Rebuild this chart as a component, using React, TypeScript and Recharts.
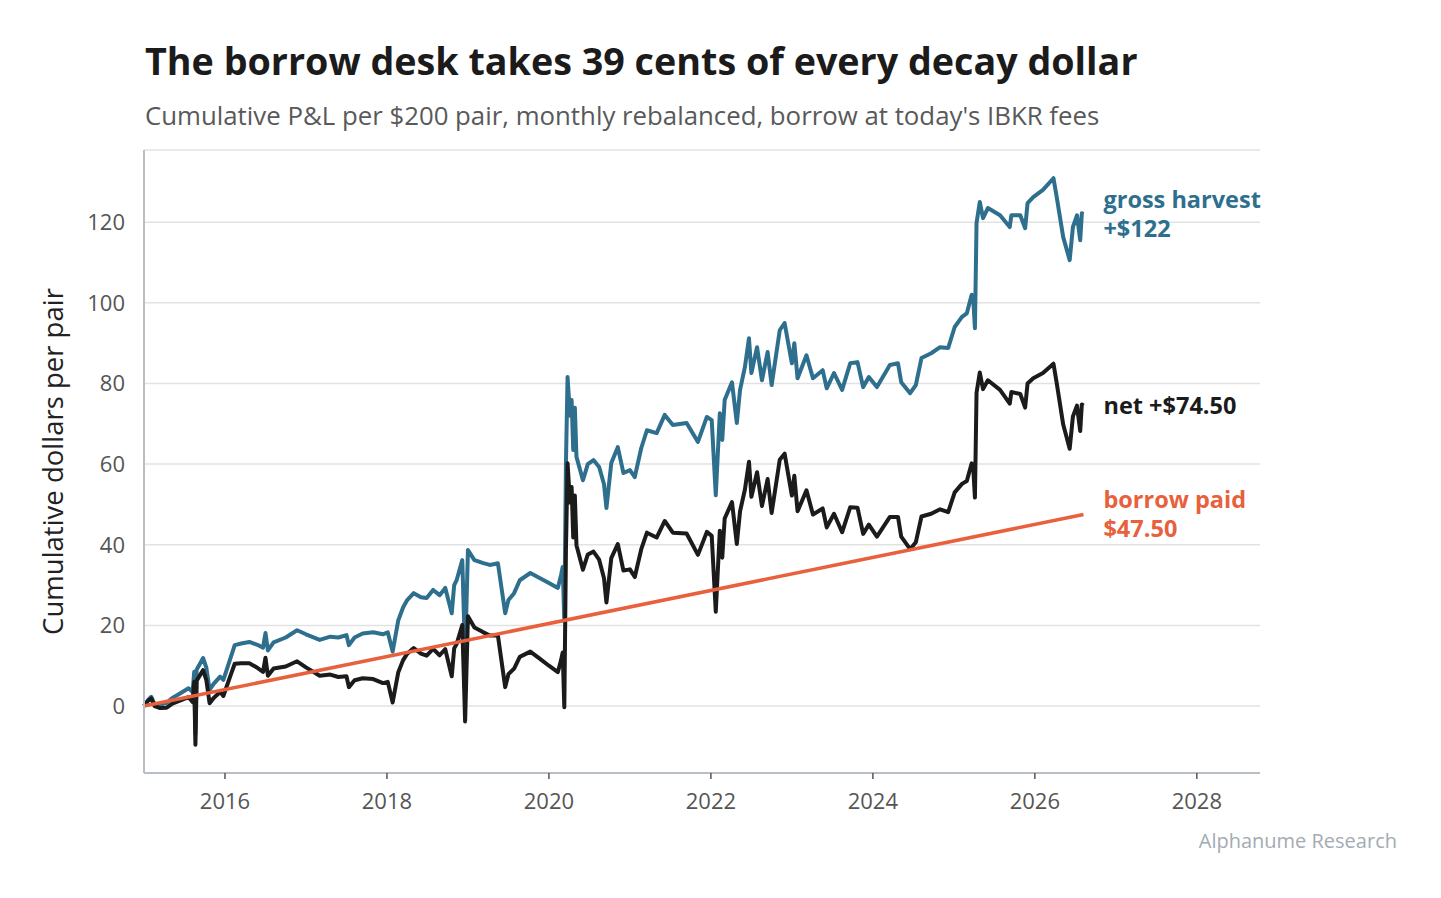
import { CartesianGrid, Line, LineChart, XAxis, YAxis } from 'recharts'

const years = [
  2015.0, 2015.05, 2015.09, 2015.13, 2015.2, 2015.28, 2015.35, 2015.45, 2015.55, 2015.6,
  2015.62, 2015.635, 2015.65, 2015.73, 2015.77, 2015.81, 2015.86, 2015.94, 2015.98, 2016.06,
  2016.12, 2016.2, 2016.3, 2016.4, 2016.47, 2016.5, 2016.53, 2016.6, 2016.75, 2016.89,
  2017.0, 2017.17, 2017.3, 2017.4, 2017.5, 2017.53, 2017.6, 2017.7, 2017.83, 2017.95,
  2018.01, 2018.07, 2018.14, 2018.2, 2018.25, 2018.33, 2018.42, 2018.49, 2018.57, 2018.65,
  2018.72, 2018.8, 2018.83, 2018.86, 2018.93, 2018.965, 2019.0, 2019.08, 2019.18, 2019.27,
  2019.37, 2019.46, 2019.5, 2019.57, 2019.64, 2019.77, 2019.89, 2020.0, 2020.11, 2020.15,
  2020.17, 2020.19, 2020.21, 2020.23, 2020.26, 2020.28, 2020.3, 2020.32, 2020.34, 2020.42,
  2020.48, 2020.55, 2020.62, 2020.68, 2020.71, 2020.77, 2020.85, 2020.92, 2021.0, 2021.06,
  2021.14, 2021.21, 2021.33, 2021.43, 2021.53, 2021.7, 2021.84, 2021.95, 2022.01, 2022.06,
  2022.11, 2022.14, 2022.17, 2022.26, 2022.32, 2022.36, 2022.42, 2022.47, 2022.5, 2022.57,
  2022.63, 2022.7, 2022.75, 2022.85, 2022.91, 2023.0, 2023.03, 2023.07, 2023.18, 2023.26,
  2023.38, 2023.43, 2023.52, 2023.62, 2023.72, 2023.81, 2023.88, 2023.95, 2024.05, 2024.21,
  2024.31, 2024.35, 2024.46, 2024.53, 2024.6, 2024.72, 2024.83, 2024.93, 2025.01, 2025.1,
  2025.16, 2025.22, 2025.24, 2025.26, 2025.28, 2025.32, 2025.36, 2025.42, 2025.57, 2025.69,
  2025.71, 2025.82, 2025.88, 2025.91, 2025.98, 2026.1, 2026.23, 2026.27, 2026.35, 2026.43,
  2026.47, 2026.52, 2026.56, 2026.58, 2026.6
]

const gross = [
  0, 1.5, 2.3, 0.5, 0.3, 0.8, 2.0, 3.2, 4.4, 3.5,
  8.5, -7.0, 9.0, 11.9, 9.5, 4.0, 5.5, 7.3, 6.5, 11.4,
  15.1, 15.5, 15.9, 15.2, 14.5, 18.1, 13.8, 15.8, 17.0, 18.8,
  17.8, 16.4, 17.2, 17.0, 17.6, 15.1, 17.0, 18.0, 18.3, 17.8,
  18.3, 13.5, 21.3, 24.5, 26.3, 28.0, 27.0, 26.8, 28.8, 27.5,
  29.3, 23.0, 30.0, 31.2, 36.2, 12.4, 38.7, 36.2, 35.5, 35.0,
  35.4, 23.0, 26.3, 28.0, 31.2, 33.0, 31.7, 30.5, 29.3, 32.5,
  34.5, 21.0, 60.0, 81.6, 72.0, 75.9, 63.5, 74.0, 61.8, 56.0,
  60.0, 61.0, 59.3, 55.0, 49.1, 60.3, 64.2, 57.8, 58.5, 56.8,
  64.0, 68.4, 67.7, 72.2, 69.7, 70.2, 65.5, 71.7, 70.9, 52.3,
  72.6, 66.0, 75.9, 80.3, 70.2, 78.4, 84.1, 91.2, 82.6, 89.0,
  80.8, 87.8, 79.6, 93.2, 95.0, 85.0, 90.0, 81.3, 87.0, 81.3,
  83.3, 78.8, 82.6, 78.4, 85.0, 85.3, 79.1, 81.6, 79.1, 84.6,
  85.0, 80.3, 77.6, 79.6, 86.3, 87.5, 89.0, 88.8, 94.0, 96.5,
  97.4, 102.0, 100.7, 93.7, 119.8, 125.0, 121.0, 123.5, 121.7, 118.8,
  121.7, 121.7, 118.5, 124.7, 126.2, 128.0, 130.9, 126.2, 116.3, 110.6,
  118.8, 121.7, 115.5, 122.2, 122.0
]

const net = [
  0, 1.3, 1.9, 0.0, -0.5, -0.4, 0.6, 1.4, 2.2, 1.0,
  6.0, -9.6, 6.3, 8.9, 6.4, 0.7, 2.0, 3.5, 2.5, 7.1,
  10.5, 10.6, 10.6, 9.5, 8.5, 12.0, 7.5, 9.3, 9.8, 11.1,
  9.6, 7.5, 7.8, 7.2, 7.4, 4.7, 6.4, 6.9, 6.7, 5.7,
  6.0, 0.9, 8.4, 11.4, 13.0, 14.4, 13.0, 12.5, 14.2, 12.6,
  14.1, 7.4, 14.3, 15.4, 20.1, -3.8, 22.3, 19.5, 18.4, 17.5,
  17.5, 4.7, 7.9, 9.3, 12.2, 13.5, 11.7, 10.0, 8.4, 11.4,
  13.3, -0.3, 38.7, 60.2, 50.5, 54.3, 41.8, 52.2, 39.9, 33.8,
  37.6, 38.3, 36.3, 31.7, 25.7, 36.7, 40.2, 33.6, 33.9, 32.0,
  38.9, 43.0, 41.8, 45.9, 43.0, 42.8, 37.5, 43.2, 42.2, 23.4,
  43.5, 36.8, 46.5, 50.6, 40.2, 48.3, 53.7, 60.6, 51.9, 58.0,
  49.6, 56.3, 47.9, 61.1, 62.6, 52.2, 57.1, 48.3, 53.5, 47.5,
  49.0, 44.3, 47.7, 43.1, 49.3, 49.2, 42.7, 45.0, 42.0, 46.9,
  46.9, 42.0, 38.9, 40.6, 47.0, 47.7, 48.8, 48.1, 53.0, 55.1,
  55.8, 60.2, 58.8, 51.7, 77.7, 82.7, 78.6, 80.8, 78.4, 75.0,
  77.9, 77.4, 74.0, 80.0, 81.3, 82.6, 84.9, 80.1, 69.8, 63.8,
  71.8, 74.5, 68.2, 74.8, 74.5
]

const borrowYears = [2015.0, 2026.6]
const borrowValues = [0, 47.5]

const xTicks = [2016, 2018, 2020, 2022, 2024, 2026, 2028]
const yTicks = [0, 20, 40, 60, 80, 100, 120]

const pnlRows = years.map((year, i) => ({ year, gross: gross[i], net: net[i] }))
const borrowRows = borrowYears.map((year, i) => ({ year, borrow: borrowValues[i] }))

const FONT = '"Open Sans", "Noto Sans", sans-serif'
const BLUE = '#2e6f8e'
const BLACK = '#1b1b1b'
const ORANGE = '#e8603c'

function endLabel(lines: string[], color: string, lastIndex: number) {
  return (props: any) => {
    if (props.index !== lastIndex) return <g />
    const x = Number(props.x) + 20
    const y = Number(props.y) - 1
    const top = y - ((lines.length - 1) * 29) / 2
    return (
      <text
        x={x}
        y={top}
        fill={color}
        fontFamily={FONT}
        fontWeight={700}
        fontSize={23.5}
        dominantBaseline="central">
        {lines.map((line, i) => (
          <tspan key={i} x={x} y={top + i * 29}>
            {line}
          </tspan>
        ))}
      </text>
    )
  }
}

export default function App() {
  return (
    <div
      style={{
        position: 'absolute',
        left: 0,
        top: 0,
        width: 1441,
        height: 898,
        background: '#fff',
        fontFamily: FONT
      }}>
      <div
        style={{
          position: 'absolute',
          left: 145,
          top: 35,
          fontSize: 37.7,
          fontWeight: 700,
          color: '#1b1b1b',
          whiteSpace: 'nowrap'
        }}>
        The borrow desk takes 39 cents of every decay dollar
      </div>
      <div
        style={{
          position: 'absolute',
          left: 145,
          top: 97,
          fontSize: 25.8,
          color: '#595959',
          whiteSpace: 'nowrap'
        }}>
        Cumulative P&amp;L per $200 pair, monthly rebalanced, borrow at today's IBKR fees
      </div>
      <div
        style={{
          position: 'absolute',
          right: 44,
          top: 827,
          fontSize: 20,
          color: '#a3abb3',
          whiteSpace: 'nowrap'
        }}>
        Alphanume Research
      </div>
      <LineChart
        width={1441}
        height={898}
        data={pnlRows}
        margin={{ top: 150, right: 181, left: 84, bottom: 85 }}>
        <CartesianGrid vertical={false} stroke="#e2e2e2" strokeWidth={1.5} />
        <XAxis
          dataKey="year"
          type="number"
          domain={[2015, 2028.78]}
          ticks={xTicks}
          height={40}
          allowDuplicatedCategory={false}
          stroke="#b8bec6"
          strokeWidth={2}
          tickSize={6}
          tickMargin={14}
          tickLine={{ stroke: '#555', strokeWidth: 1.5 }}
          tick={{ fill: '#555', fontSize: 22, fontFamily: FONT }}
        />
        <YAxis
          type="number"
          domain={[-16.6, 137.9]}
          ticks={yTicks}
          width={60}
          stroke="#b8bec6"
          strokeWidth={2}
          tickLine={false}
          tickSize={0}
          tickMargin={19}
          tick={{ fill: '#555', fontSize: 22, fontFamily: FONT }}
          label={{
            value: 'Cumulative dollars per pair',
            angle: -90,
            position: 'insideLeft',
            dx: -36,
            dy: 0,
            style: { textAnchor: 'middle', fill: '#222', fontSize: 27.5, fontFamily: FONT }
          }}
        />
        <Line
          type="linear"
          dataKey="gross"
          stroke={BLUE}
          strokeWidth={4}
          strokeLinejoin="round"
          dot={false}
          activeDot={false}
          isAnimationActive={false}
          label={endLabel(['gross harvest', '+$122'], BLUE, years.length - 1)}
        />
        <Line
          type="linear"
          dataKey="net"
          stroke={BLACK}
          strokeWidth={4}
          strokeLinejoin="round"
          dot={false}
          activeDot={false}
          isAnimationActive={false}
          label={endLabel(['net +$74.50'], BLACK, years.length - 1)}
        />
        <Line
          type="linear"
          data={borrowRows}
          dataKey="borrow"
          stroke={ORANGE}
          strokeWidth={3.5}
          dot={false}
          activeDot={false}
          isAnimationActive={false}
          label={endLabel(['borrow paid', '$47.50'], ORANGE, borrowRows.length - 1)}
        />
      </LineChart>
    </div>
  )
}
